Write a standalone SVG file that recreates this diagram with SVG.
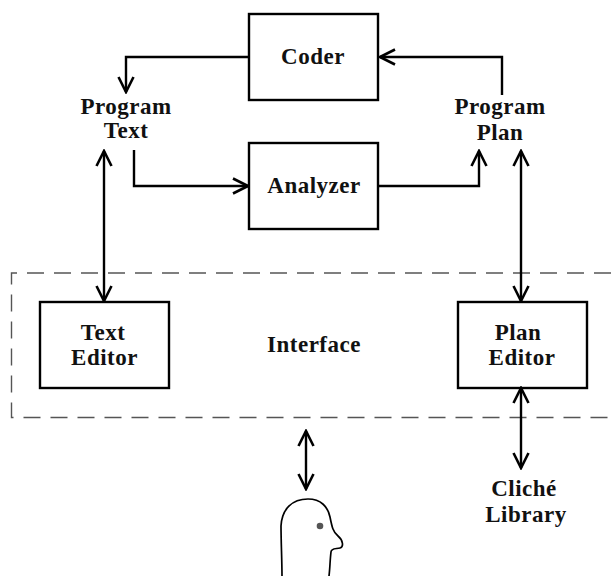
<svg xmlns="http://www.w3.org/2000/svg" width="611" height="576" viewBox="0 0 611 576">
<style>
text{font-family:"Liberation Serif","Times New Roman",serif;font-weight:bold;font-size:23px;letter-spacing:0.5px;fill:#111;text-anchor:middle}
.box{fill:none;stroke:#000;stroke-width:2.4}
.c{fill:none;stroke:#000;stroke-width:2.400}
</style>
<defs>
<marker id="a" viewBox="-16 -9 18 18" markerWidth="18" markerHeight="18" markerUnits="userSpaceOnUse" refX="0" refY="0" orient="auto-start-reverse"><path d="M-15,-7.500 L0,0 L-15,7.500" fill="none" stroke="#000" stroke-width="2.600"/></marker>
</defs>
<rect width="611" height="576" fill="#fff"/>
<g id="interface">
<path d="M611,273 H11.500 V417.500 H611" fill="none" stroke="#555" stroke-width="1.400" stroke-dasharray="17,10"/>
<text x="314" y="352">Interface</text>
</g>
<g id="connectors">
<path class="c" d="M249,57 H126 V92" marker-end="url(#a)"/>
<path class="c" d="M502,95 V57 H380" marker-end="url(#a)"/>
<path class="c" d="M134,150 V186 H248" marker-end="url(#a)"/>
<path class="c" d="M379,186 H479 V151" marker-end="url(#a)"/>
<path class="c" d="M104,151 V301" marker-start="url(#a)" marker-end="url(#a)"/>
<path class="c" d="M521,151 V301" marker-start="url(#a)" marker-end="url(#a)"/>
<path class="c" d="M521,388 V468" marker-start="url(#a)" marker-end="url(#a)"/>
<path class="c" d="M306,431 V489" marker-start="url(#a)" marker-end="url(#a)"/>
</g>
<g id="coder"><rect class="box" x="249" y="14" width="129" height="86"/><text x="313" y="64">Coder</text></g>
<g id="analyzer"><rect class="box" x="249" y="143" width="129" height="86"/><text x="314" y="193">Analyzer</text></g>
<g id="program-text"><text x="126" y="114">Program</text><text x="126" y="138">Text</text></g>
<g id="program-plan"><text x="500" y="114">Program</text><text x="500" y="140">Plan</text></g>
<g id="text-editor"><rect class="box" x="40" y="302" width="129" height="86"/><text x="103" y="340">Text</text><text x="104.500" y="365">Editor</text></g>
<g id="plan-editor"><rect class="box" x="458" y="302" width="129" height="86"/><text x="518" y="340">Plan</text><text x="522" y="365">Editor</text></g>
<g id="cliche-library"><text x="524" y="496">Cliché</text><text x="526" y="522">Library</text></g>
<g id="person">
<path d="M282,576 C282,562 281,540 281,526 C282,509 292,499 308,499 C321,499 328,507 330,517 C332,527 333,532 338,536 C343,540 344,547 340,548 C336,549 331,548 331,552 C330,560 330,568 329,576" fill="none" stroke="#000" stroke-width="1.700"/>
<circle cx="320" cy="526" r="3.300" fill="#555"/>
</g>
</svg>
